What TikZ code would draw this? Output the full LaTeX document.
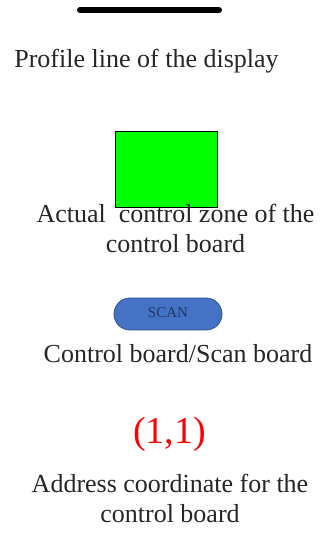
\documentclass[tikz,border=0pt]{standalone}
\usepackage{fontspec}
\setmainfont{Liberation Serif}
\definecolor{zonegreen}{RGB}{0,255,0}
\definecolor{scanfill}{RGB}{68,114,196}
\definecolor{scandraw}{RGB}{47,82,143}
\definecolor{scantext}{RGB}{31,56,100}
\tikzset{
 caption/.style={anchor=base, align=center, inner sep=0pt, font=\fontsize{26}{30}\selectfont, text=black!85},
 scanpill/.style={draw=scandraw, fill=scanfill, rounded corners=16pt, line width=0.8pt}
}
\begin{document}
\begin{tikzpicture}[x=1pt, y=-1pt, line cap=round, line join=round]
 \useasboundingbox (0,0) rectangle (331,539);
 % profile line
 \draw[line width=6pt] (80,10) coordinate (pl) -- (219,10) coordinate (pr);
 \node[caption] (profile) at (146.5,67) {Profile line of the display};
 % control zone
 \draw[fill=zonegreen, line width=0.8pt] (115,131) rectangle (217,207);
 \node[caption] (zone) at (175.5,252) {Actual\ \ control zone of the\\control board};
 % scan board
 \draw[scanpill] (114,298) rectangle (222,330);
 \node[font=\fontsize{15}{18}\selectfont, text=scantext] (scan) at (168,313) {SCAN};
 \node[caption] (board) at (178,362) {Control board/Scan board};
 % address
 \node[caption, text=red, font=\fontsize{38}{44}\selectfont] (addr) at (169.5,443) {(1,1)};
 \node[caption] (coord) at (170,522) {Address coordinate for the\\control board};
\end{tikzpicture}
\end{document}
